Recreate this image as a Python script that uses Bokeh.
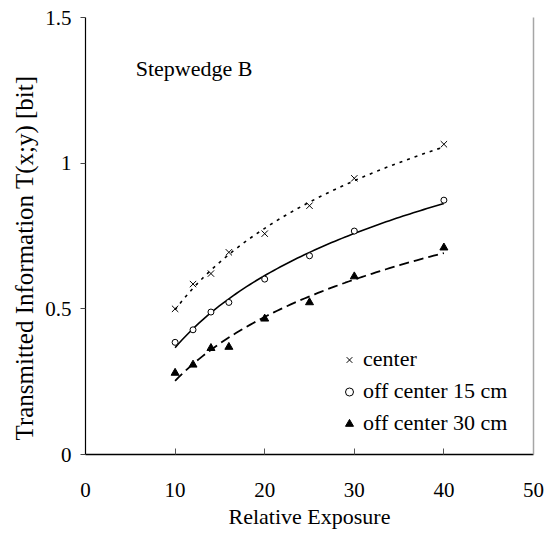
import numpy as np
from bokeh.plotting import figure
from bokeh.models import Range1d, LinearAxis, FixedTicker, Label, Legend, LegendItem, Title
from bokeh.embed import file_html
from bokeh.resources import INLINE

# ---- data ----
exposure = [10, 12, 14, 16, 20, 25, 30, 40]
center = [0.500, 0.585, 0.621, 0.694, 0.758, 0.854, 0.948, 1.065]
off_center_15 = [0.385, 0.428, 0.489, 0.522, 0.602, 0.682, 0.767, 0.873]
off_center_30 = [0.280, 0.308, 0.365, 0.369, 0.466, 0.522, 0.611, 0.710]

series_names = ["center", "off center 15 cm", "off center 30 cm"]
x_ticks = [0, 10, 20, 30, 40, 50]
y_ticks = [0, 0.5, 1, 1.5]
y_tick_labels = ["0", "0.5", "1", "1.5"]

FONT = "Liberation Serif"

p = figure(width=547, height=544,
           x_range=Range1d(0, 50), y_range=Range1d(0, 1.5),
           output_backend="svg", toolbar_location=None,
           min_border_left=85, min_border_right=14,
           min_border_top=17, min_border_bottom=90)
p.outline_line_color = None
p.xgrid.grid_line_color = None
p.ygrid.grid_line_color = None
p.background_fill_color = "white"
p.border_fill_color = "white"

# x axis
xa = p.xaxis[0]
xa.ticker = FixedTicker(ticks=x_ticks)
xa.major_tick_in = 6
xa.major_tick_out = 0
xa.minor_tick_line_color = None
xa.axis_line_color = "black"
xa.axis_line_width = 1.5
xa.major_tick_line_width = 1
xa.major_tick_line_color = "#555555"
xa.major_label_standoff = 28
xa.major_label_text_font = FONT
xa.major_label_text_font_size = "21px"
xa.major_label_text_color = "black"
xa.axis_label = "Relative Exposure"
xa.axis_label_text_font = FONT
xa.axis_label_text_font_size = "22px"
xa.axis_label_text_font_style = "normal"
xa.axis_label_text_color = "black"
xa.axis_label_standoff = 4

# y axis
ya = p.yaxis[0]
ya.ticker = FixedTicker(ticks=y_ticks)
ya.major_label_overrides = {t: s for t, s in zip(y_ticks, y_tick_labels)}
ya.major_tick_in = 0
ya.major_tick_out = 5
ya.minor_tick_line_color = None
ya.axis_line_color = "black"
ya.axis_line_width = 1.2
ya.major_tick_line_color = "#444444"
ya.major_label_standoff = 9
ya.major_label_text_font = FONT
ya.major_label_text_font_size = "21px"
ya.major_label_text_color = "black"

# y axis title as a side title (allows a vertical offset like the reference)
p.add_layout(Title(text="Transmitted Information T(x;y) [bit]", align="left",
                   offset=14, standoff=9, text_font=FONT, text_font_size="25px",
                   text_font_style="normal", text_color="black"), "left")

# grey right border
ra = LinearAxis(ticker=FixedTicker(ticks=[]), axis_line_color="#a6a6a6",
                axis_line_width=1.5, major_tick_line_color=None,
                minor_tick_line_color=None, major_label_text_font_size="0px")
p.add_layout(ra, "right")

# logarithmic trend lines fitted to each series
xs = np.linspace(min(exposure), max(exposure), 80)
def log_fit(yv):
    b, a = np.polyfit(np.log(exposure), yv, 1)
    return a + b * np.log(xs)

p.line(xs, log_fit(center), line_color="black", line_width=1.6, line_dash="3 5")
p.line(xs, log_fit(off_center_15), line_color="black", line_width=1.6)
p.line(xs, log_fit(off_center_30), line_color="black", line_width=1.8, line_dash="10 5")

r_c = p.scatter(exposure, center, marker="x", size=9, line_color="black", line_width=1)
r_15 = p.scatter(exposure, off_center_15, marker="circle", size=6,
                 fill_color="white", line_color="black", line_width=1)
r_30 = p.scatter(exposure, off_center_30, marker="triangle", size=8,
                 fill_color="black", line_color="black", line_width=1)

legend = Legend(items=[LegendItem(label=series_names[0], renderers=[r_c]),
                       LegendItem(label=series_names[1], renderers=[r_15]),
                       LegendItem(label=series_names[2], renderers=[r_30])],
                location=(254, 18), orientation="vertical",
                glyph_width=20, glyph_height=25, label_height=25,
                label_standoff=4, spacing=6, padding=0, margin=0,
                border_line_color=None, background_fill_alpha=0,
                label_text_font=FONT, label_text_font_size="22px",
                label_text_color="black")
p.add_layout(legend)

p.add_layout(Label(x=5.6, y=1.325, text="Stepwedge B", text_align="left",
                   text_baseline="middle", text_font=FONT,
                   text_font_size="22px", text_color="black"))

open("out.html", "w").write(file_html(p, INLINE))
